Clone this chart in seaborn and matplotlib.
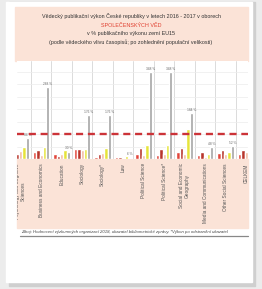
import pandas as pd
import matplotlib.pyplot as plt
import seaborn as sns
from matplotlib.patches import Rectangle
from matplotlib.lines import Line2D

# Data (% of EU15 output)
categories = [
    "Psychology and Cognitive\nSciences",
    "Business and Economics",
    "Education",
    "Sociology",
    "Sociology*",
    "Law",
    "Political Science",
    "Political Science*",
    "Social and Economic\nGeography",
    "Media and Communications",
    "Other Social Sciences",
    "CELKEM",
]
series = ["Top 10 %", "Q1", "Q2", "Q3", "Q4"]
top10 = [10, 30, 20, 42, 8, 8, 20, 15, 30, 15, 25, 22]
q1 = [20, 35, 12, 42, 20, 10, 45, 40, 45, 28, 35, 35]
q2 = [33, 15, 20, 35, 25, 3, 15, 20, 20, 10, 20, 30]
q3 = [50, 50, 38, 40, 45, 12, 55, 55, 120, 20, 30, 63]
q4 = [84, 288, 30, 176, 176, 6, 348, 348, 184, 48, 52, 164]
colors = ["#e2453a", "#b8352b", "#f3b89c", "#e6e43a", "#a3a3a3"]

title_lines = [
    "Vědecký publikační výkon České republiky v letech 2016 - 2017 v oborech",
    "SPOLEČENSKÝCH VĚD",
    "v % publikačního výkonu zemí EU15",
    "(podle vědeckého vlivu časopisů; po zohlednění populační velikosti)",
]
footnote = ("Zdroj: Hodnocení výzkumných organizací 2018, ukazatel bibliometrické zprávy. "
            "*Výkon po odstranění ukazatel")

df = pd.DataFrame({
    "obor": categories * 5,
    "kvartil": [s for s in series for _ in categories],
    "vykon": top10 + q1 + q2 + q3 + q4,
})

W, H = 262, 289

def fx(x):
    return x / W

def fy(y):
    return 1 - y / H

sns.set_style("white")
plt.rcParams["font.family"] = ["Liberation Sans", "DejaVu Sans"]

fig = plt.figure(figsize=(W / 100, H / 100), dpi=100)
fig.patch.set_facecolor("#ececec")

# photo card with shadow, pink boxes (drawn behind the axes)
bg = [
    ((9, 286), 246, 284, "#cfcfcf"),
    ((6, 282), 246, 280, "white"),
    ((15, 61), 233, 54, "#fbe3d7"),
    ((17, 228), 231, 69, "#fbe3d7"),
]
for (x0, y1), w, h, c in bg:
    fig.patches.append(Rectangle((fx(x0), fy(y1)), fx(w), h / H, transform=fig.transFigure,
                                 color=c, zorder=-5))

ax = fig.add_axes([fx(17), fy(159), fx(231), 98 / H])
sns.barplot(data=df, x="obor", y="vykon", hue="kvartil", palette=colors,
            width=0.8, ax=ax, legend=False, saturation=1)

ax.axhline(100, color="#cc3338", ls=(0, (3, 2)), lw=1.7, zorder=5)
ax.set_xlim(-0.18, 11.09)
ax.set_ylim(0, 392)
ax.set_yticks(range(0, 400, 50))
ax.set_yticklabels([])
ax.tick_params(axis="y", length=0)
ax.grid(axis="y", color="#ececec", lw=0.5)
ax.set_axisbelow(True)
for b in [i + 0.5 for i in range(11)]:
    ax.axvline(b, color="#d6d6d6", lw=0.6, zorder=0)
for s in ax.spines.values():
    s.set_visible(False)
ax.set_xlabel("")
ax.set_ylabel("")
ax.tick_params(axis="x", length=0, pad=3)
ax.set_xticks(range(len(categories)))
ax.set_xticklabels(categories, rotation=90, fontsize=3.4, color="#555555")

# labels are cut at the photo edge like the chart itself
clip = Rectangle((fx(17), fy(228)), fx(231), 69 / H, transform=fig.transFigure)
for lbl in ax.get_xticklabels():
    lbl.set_clip_path(clip)

# value labels on grey bars
ax.bar_label(ax.containers[4], labels=[f"{v} %" for v in q4], fontsize=2.3,
             color="#666666", padding=1)

# title
fig.text(0.5, fy(16), title_lines[0], ha="center", va="center", fontsize=3.9, color="#333333")
fig.text(0.5, fy(25), title_lines[1], ha="center", va="center", fontsize=3.9, color="#e04030")
fig.text(0.5, fy(33.5), title_lines[2], ha="center", va="center", fontsize=3.9, color="#333333")
fig.text(0.5, fy(42.5), title_lines[3], ha="center", va="center", fontsize=3.9, color="#333333")

# footnote
fig.text(fx(21), fy(232), footnote, ha="left", va="center", fontsize=3.1,
         style="italic", color="#444444")
fig.lines.append(Line2D([fx(20), fx(248)], [fy(235.5), fy(235.5)], transform=fig.transFigure,
                        color="#888888", lw=0.9))

fig.savefig("out.png", dpi=100, facecolor=fig.get_facecolor())
